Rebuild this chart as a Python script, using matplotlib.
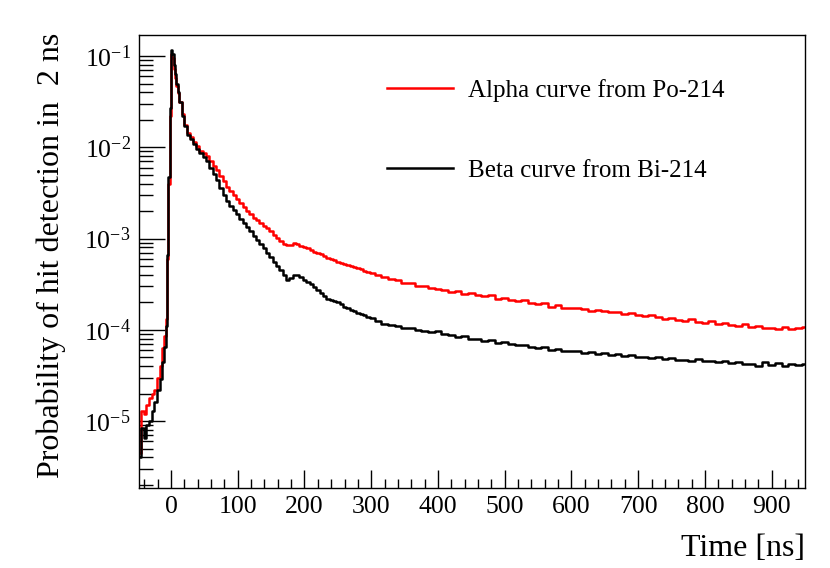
import matplotlib
matplotlib.use("Agg")
import matplotlib.pyplot as plt
from matplotlib.ticker import LogLocator, MultipleLocator, NullFormatter

plt.rcParams["font.family"] = ["Liberation Serif", "DejaVu Serif"]
plt.rcParams["mathtext.fontset"] = "custom"
plt.rcParams["mathtext.rm"] = "Liberation Serif"
plt.rcParams["mathtext.it"] = "Liberation Serif:italic"

# time bins [ns] (bin centres)
time_ns = [-47, -43, -39, -35, -31, -27, -23, -19, -15, -11, -9, -7, -5, -3, -1,
           1, 3, 5, 7, 9, 11, 14, 18, 22, 26, 30, 35, 40, 45, 50, 55, 60, 65,
           70, 75, 80, 85, 90, 95, 100, 105, 110, 115, 120, 125, 130, 135, 140,
           145, 150, 155, 160, 165, 170, 175, 180, 185, 190, 195, 200, 205, 210,
           215, 220, 225, 230, 235, 240, 245, 250, 255, 260, 265, 270, 275, 280,
           285, 290, 295, 300,
           310, 320, 330, 340, 350, 360, 370, 380, 390, 400, 410, 420, 430, 440,
           450, 460, 470, 480, 490, 500, 510, 520, 530, 540, 550, 560, 570, 580,
           590, 600, 610, 620, 630, 640, 650, 660, 670, 680, 690, 700, 710, 720,
           730, 740, 750, 760, 770, 780, 790, 800, 810, 820, 830, 840, 850, 860,
           870, 880, 890, 900, 910, 920, 930, 940, 950]

alpha_po214 = [4.5e-6, 1.3e-5, 1.2e-5, 1.5e-5, 1.8e-5, 2.0e-5, 2.2e-5, 3.0e-5, 4.0e-5, 6.3e-5, 8.5e-5, 1.3e-4, 6.0e-4, 4.0e-3, 2.2e-2,
               0.105, 0.095, 0.072, 0.058, 0.047, 0.039, 0.031, 0.023, 0.0175, 0.0145, 0.013, 0.0115, 0.0104, 0.0092, 0.0086, 0.008, 0.0071, 0.0063,
               5.6e-3, 4.9e-3, 4.3e-3, 3.7e-3, 3.3e-3, 3.0e-3, 2.7e-3, 2.45e-3, 2.2e-3, 2.0e-3, 1.85e-3, 1.7e-3, 1.58e-3, 1.48e-3, 1.38e-3,
               1.3e-3, 1.2e-3, 1.1e-3, 1.02e-3, 9.4e-4, 8.7e-4, 8.4e-4, 8.6e-4, 8.9e-4, 8.7e-4, 8.3e-4, 8.1e-4, 7.8e-4, 7.5e-4,
               7.2e-4, 7.0e-4, 6.8e-4, 6.5e-4, 6.2e-4, 6.0e-4, 5.8e-4, 5.55e-4, 5.4e-4, 5.25e-4, 5.1e-4, 5.0e-4, 4.9e-4, 4.8e-4,
               4.6e-4, 4.45e-4, 4.3e-4, 4.15e-4,
               3.95e-4, 3.8e-4, 3.6e-4, 3.5e-4, 3.3e-4, 3.25e-4, 3.0e-4, 3.05e-4, 2.85e-4, 2.8e-4, 2.75e-4, 2.6e-4, 2.65e-4, 2.5e-4,
               2.55e-4, 2.4e-4, 2.35e-4, 2.4e-4, 2.2e-4, 2.25e-4, 2.1e-4, 2.05e-4, 2.1e-4, 1.95e-4, 1.9e-4, 1.95e-4, 1.8e-4, 1.85e-4,
               1.75e-4, 1.72e-4, 1.75e-4, 1.68e-4, 1.62e-4, 1.66e-4, 1.6e-4, 1.55e-4, 1.58e-4, 1.5e-4, 1.52e-4, 1.45e-4, 1.42e-4, 1.45e-4,
               1.38e-4, 1.32e-4, 1.35e-4, 1.28e-4, 1.25e-4, 1.3e-4, 1.22e-4, 1.2e-4, 1.24e-4, 1.16e-4, 1.18e-4, 1.12e-4, 1.1e-4, 1.15e-4,
               1.08e-4, 1.1e-4, 1.04e-4, 1.06e-4, 1.02e-4, 1.08e-4, 1.02e-4, 1.05e-4, 1.08e-4]

beta_bi214 = [4.0e-6, 8.5e-6, 6.5e-6, 9.0e-6, 1.0e-5, 1.3e-5, 1.6e-5, 2.2e-5, 2.9e-5, 4.4e-5, 6.5e-5, 1.1e-4, 6.6e-4, 4.7e-3, 2.7e-2,
              0.116, 0.105, 0.08, 0.063, 0.05, 0.04, 0.031, 0.022, 0.017, 0.0138, 0.0122, 0.0108, 0.0096, 0.0086, 0.0078, 0.0071, 0.006, 0.0051,
              4.4e-3, 3.6e-3, 3.0e-3, 2.6e-3, 2.3e-3, 2.05e-3, 1.85e-3, 1.65e-3, 1.5e-3, 1.35e-3, 1.2e-3, 1.08e-3, 9.6e-4, 8.7e-4, 7.8e-4,
              7.0e-4, 6.3e-4, 5.6e-4, 5.0e-4, 4.5e-4, 4.0e-4, 3.55e-4, 3.7e-4, 4.0e-4, 3.95e-4, 3.75e-4, 3.55e-4, 3.35e-4, 3.2e-4,
              2.95e-4, 2.75e-4, 2.55e-4, 2.35e-4, 2.2e-4, 2.15e-4, 2.05e-4, 2.0e-4, 1.9e-4, 1.8e-4, 1.72e-4, 1.66e-4, 1.6e-4, 1.54e-4,
              1.5e-4, 1.44e-4, 1.4e-4, 1.36e-4,
              1.25e-4, 1.15e-4, 1.12e-4, 1.1e-4, 1.05e-4, 1.06e-4, 1.0e-4, 9.8e-5, 9.5e-5, 9.6e-5, 9.0e-5, 8.8e-5, 8.3e-5, 8.5e-5,
              8.0e-5, 7.9e-5, 7.6e-5, 7.8e-5, 7.2e-5, 7.4e-5, 7.0e-5, 6.8e-5, 6.9e-5, 6.5e-5, 6.3e-5, 6.5e-5, 6.0e-5, 6.2e-5,
              5.9e-5, 5.8e-5, 5.9e-5, 5.6e-5, 5.7e-5, 5.5e-5, 5.6e-5, 5.3e-5, 5.4e-5, 5.2e-5, 5.3e-5, 5.0e-5, 5.1e-5, 4.9e-5,
              5.0e-5, 4.8e-5, 4.9e-5, 4.7e-5, 4.7e-5, 4.6e-5, 4.8e-5, 4.5e-5, 4.6e-5, 4.4e-5, 4.5e-5, 4.3e-5, 4.4e-5, 4.2e-5,
              4.2e-5, 4.0e-5, 4.4e-5, 4.1e-5, 4.3e-5, 4.0e-5, 4.2e-5, 4.1e-5, 4.2e-5]

fig = plt.figure(figsize=(8.3, 5.68), dpi=100)
ax = fig.add_axes([139 / 830, 1 - 488 / 568, 666 / 830, 453 / 568])

ax.plot(time_ns, alpha_po214, color="#ff0000", lw=1.8, drawstyle="steps-mid",
        label="Alpha curve from Po-214")
ax.plot(time_ns, beta_bi214, color="black", lw=1.8, drawstyle="steps-mid",
        label="Beta curve from Bi-214")

ax.set_yscale("log")
ax.set_xlim(-48, 950)
ax.set_ylim(1.85e-6, 0.17)

# ROOT-like ticks: inside, bottom/left only
ax.xaxis.set_major_locator(MultipleLocator(100))
ax.xaxis.set_minor_locator(MultipleLocator(20))
ax.yaxis.set_major_locator(LogLocator(base=10))
ax.yaxis.set_minor_locator(LogLocator(base=10, subs=range(2, 10)))
ax.yaxis.set_minor_formatter(NullFormatter())
ax.tick_params(axis="x", which="major", direction="in", length=13, width=1,
               labelsize=18.5, pad=6)
ax.tick_params(axis="x", which="minor", direction="in", length=6.5, width=1)
ax.tick_params(axis="y", which="major", direction="in", length=19, width=1,
               labelsize=18.5, pad=6)
ax.tick_params(axis="y", which="minor", direction="in", length=10, width=1)
for s in ax.spines.values():
    s.set_linewidth(1)

fig.text(805 / 830, 1 - 556 / 568, "Time [ns]", ha="right", va="baseline",
         fontsize=23)
fig.text(51 / 830, 1 - 33 / 568, "Probability of hit detection in  2 ns",
         rotation=90, ha="center", va="top", fontsize=23)

ax.legend(loc="upper left", bbox_to_anchor=(0.372, 0.903), frameon=False,
          fontsize=18, handlelength=2.65, handletextpad=0.6, labelspacing=2.3,
          borderpad=0, borderaxespad=0)

fig.savefig("out.png", dpi=100)
